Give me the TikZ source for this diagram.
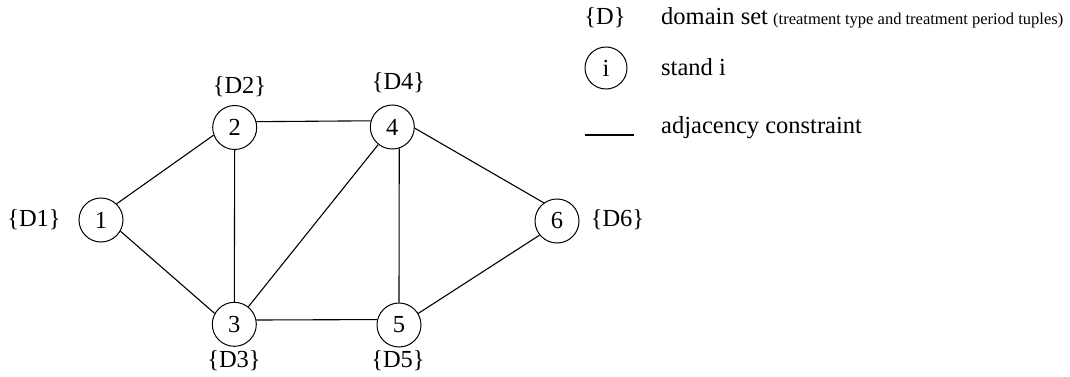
\documentclass[tikz,border=0pt]{standalone}
\usepackage{fontspec}
\setmainfont{Liberation Serif}
\begin{document}
\begin{tikzpicture}[x=1pt,y=-1pt,
  stand/.style={circle,draw,line width=1pt,minimum size=44pt,inner sep=0pt,font=\fontsize{24.5}{28}\selectfont},
  dom/.style={anchor=base,inner sep=0pt,font=\fontsize{24.5}{28}\selectfont},
  legtxt/.style={anchor=base west,inner sep=0pt,font=\fontsize{24.5}{28}\selectfont},
  smalltxt/.style={anchor=base west,inner sep=0pt,font=\fontsize{16.5}{19}\selectfont},
  edge/.style={line width=1.1pt}]
\useasboundingbox (0,0) rectangle (1070,377);
% stands
\node[stand] (n1) at (101,220) {1};
\node[stand] (n2) at (234.7,127.5) {2};
\node[stand] (n3) at (234.3,324.3) {3};
\node[stand] (n4) at (392.3,127) {4};
\node[stand] (n5) at (399,325) {5};
\node[stand] (n6) at (557,221) {6};
% domain labels
\node[dom] (d1) at (34,226.7) {\{D1\}};
\node[dom] (d2) at (239.5,93.3) {\{D2\}};
\node[dom] (d3) at (234,367) {\{D3\}};
\node[dom] (d4) at (398.5,89.3) {\{D4\}};
\node[dom] (d5) at (398,367) {\{D5\}};
\node[dom] (d6) at (617.5,226.7) {\{D6\}};
% adjacency constraints
\draw[edge] (n1.46.6) -- (n2.200);
\draw[edge] (n1.-30) -- (n3.151);
\draw[edge] (n2.south) -- (n3.north);
\draw[edge] (n2.15.8) -- (n4.164.2);
\draw[edge] (n3) -- (n4);
\draw[edge] (n3.11.3) -- (n5.166.9);
\draw[edge] (n4.-72.3) -- (n5.north);
\draw[edge] (n4.-3.4) -- (n6.126.5);
\draw[edge] (n5.31.5) -- (n6.219.3);
% legend
\node[dom] (lD) at (605,25) {\{D\}};
\node[legtxt] (lDt) at (661,25) {domain set};
\node[smalltxt] (lDs) at (773,25) {(treatment type and treatment period tuples)};
\node[stand,minimum size=42pt] (li) at (606,68) {i};
\node[legtxt] (lit) at (661,76) {stand i};
\coordinate (la) at (585,135);
\coordinate (lb) at (634,135);
\draw[edge] (la) -- (lb);
\node[legtxt] (lat) at (661,133) {adjacency constraint};
\end{tikzpicture}
\end{document}
